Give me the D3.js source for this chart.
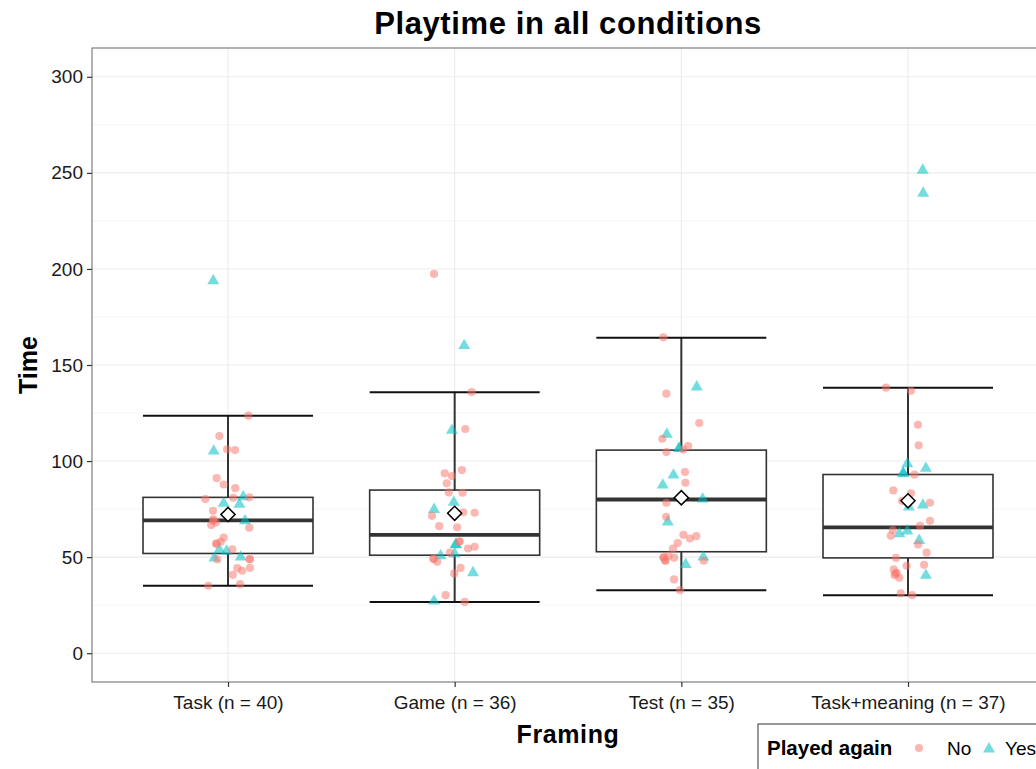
<!DOCTYPE html>
<html>
<head>
<meta charset="utf-8">
<script src="https://cdn.jsdelivr.net/npm/d3@7"></script>
<style>
  html, body { margin: 0; padding: 0; background: #fff; }
  svg { display: block; font-family: "Liberation Sans", Arial, sans-serif; }
</style>
</head>
<body>
<svg id="chart" width="1036" height="769"></svg>
<script>
// ---------------- data ----------------
const categories = ["Task", "Game", "Test", "Task+meaning"];
const counts = [40, 36, 35, 37];
const yTicks = [0, 50, 100, 150, 200, 250, 300];
const playedLevels = ["No", "Yes"];

// box statistics
const q1 = [51.9, 51.0, 52.8, 49.6];
const medians = [69.1, 61.6, 80.0, 65.5];
const q3 = [81.1, 84.9, 105.7, 93.0];
const whiskerLow = [35.1, 26.7, 32.8, 30.2];
const whiskerHigh = [123.6, 135.8, 164.2, 138.2];
const means = [72.2, 72.8, 80.9, 79.3];

// points: [time, jitter (category units), played]
const pointsTask = [
  [194.3,-0.065,"Yes"],[105.7,-0.063,"Yes"],[78.5,-0.019,"Yes"],[81.9,0.067,"Yes"],[78.0,0.050,"Yes"],
  [69.4,0.075,"Yes"],[54.3,-0.038,"Yes"],[53.6,-0.006,"Yes"],[50.0,-0.060,"Yes"],[50.5,0.056,"Yes"],
  [123.6,0.090,"No"],[113.0,-0.038,"No"],[106.1,-0.004,"No"],[105.7,0.031,"No"],[91.1,-0.050,"No"],
  [87.8,-0.019,"No"],[85.9,0.032,"No"],[80.2,-0.100,"No"],[80.9,0.023,"No"],[81.1,0.094,"No"],
  [74.1,-0.066,"No"],[69.6,-0.065,"No"],[66.7,-0.074,"No"],[68.0,-0.053,"No"],[65.3,0.094,"No"],
  [60.1,-0.019,"No"],[56.8,-0.053,"No"],[58.0,-0.032,"No"],[54.0,0.019,"No"],[48.8,-0.047,"No"],
  [49.0,0.097,"No"],[44.3,0.041,"No"],[42.9,0.062,"No"],[44.4,0.097,"No"],[40.8,0.021,"No"],
  [35.1,-0.087,"No"],[35.9,0.053,"No"],[69.0,-0.066,"No"],[57.2,-0.050,"No"],[48.9,0.095,"No"]
];
const pointsGame = [
  [160.6,0.042,"Yes"],[116.5,-0.012,"Yes"],[79.0,-0.004,"Yes"],[75.3,-0.091,"Yes"],[57.1,0.006,"Yes"],
  [52.3,0.000,"Yes"],[51.2,-0.062,"Yes"],[42.4,0.081,"Yes"],[27.6,-0.091,"Yes"],[57.0,0.004,"Yes"],
  [197.4,-0.091,"No"],[135.9,0.075,"No"],[116.7,0.047,"No"],[95.3,0.032,"No"],[93.6,-0.044,"No"],
  [92.2,-0.012,"No"],[88.4,-0.035,"No"],[83.7,-0.026,"No"],[83.5,0.035,"No"],[71.5,-0.100,"No"],
  [73.3,0.038,"No"],[73.1,0.088,"No"],[66.1,-0.068,"No"],[65.5,0.011,"No"],[58.0,0.020,"No"],
  [54.5,0.059,"No"],[55.4,0.088,"No"],[52.3,-0.021,"No"],[49.1,-0.094,"No"],[47.6,-0.077,"No"],
  [44.4,0.026,"No"],[41.5,-0.002,"No"],[30.2,-0.040,"No"],[26.7,0.044,"No"],[49.0,-0.092,"No"],
  [58.2,0.022,"No"]
];
const pointsTest = [
  [139.1,0.068,"Yes"],[114.4,-0.064,"Yes"],[107.1,-0.011,"Yes"],[93.2,-0.035,"Yes"],[88.0,-0.082,"Yes"],
  [80.7,0.094,"Yes"],[68.8,-0.060,"Yes"],[50.5,0.097,"Yes"],[46.7,0.019,"Yes"],[107.0,-0.008,"Yes"],
  [164.4,-0.079,"No"],[135.1,-0.066,"No"],[119.8,0.079,"No"],[111.6,-0.084,"No"],[107.8,0.030,"No"],
  [106.0,0.008,"No"],[104.7,-0.066,"No"],[94.3,0.016,"No"],[88.7,0.018,"No"],[78.3,-0.066,"No"],
  [71.0,-0.067,"No"],[61.6,0.009,"No"],[59.7,0.038,"No"],[60.9,0.066,"No"],[57.3,-0.016,"No"],
  [54.5,-0.037,"No"],[49.8,-0.079,"No"],[50.7,-0.057,"No"],[49.7,-0.032,"No"],[48.1,-0.071,"No"],
  [48.1,0.099,"No"],[38.4,-0.032,"No"],[32.8,-0.006,"No"],[49.9,-0.078,"No"],[48.3,-0.070,"No"]
];
const pointsTaskMeaning = [
  [251.9,0.065,"Yes"],[239.9,0.067,"Yes"],[99.1,-0.003,"Yes"],[96.7,0.079,"Yes"],[94.3,-0.022,"Yes"],
  [76.6,0.004,"Yes"],[77.6,0.066,"Yes"],[62.7,-0.038,"Yes"],[64.1,-0.003,"Yes"],[59.2,0.049,"Yes"],
  [41.0,0.079,"Yes"],[94.0,-0.020,"Yes"],
  [138.2,-0.097,"No"],[136.6,0.013,"No"],[118.9,0.044,"No"],[108.2,0.047,"No"],[92.9,0.028,"No"],
  [84.7,-0.065,"No"],[83.2,0.013,"No"],[79.3,-0.026,"No"],[78.3,0.097,"No"],[68.9,0.097,"No"],
  [66.3,0.053,"No"],[64.1,-0.067,"No"],[61.1,-0.076,"No"],[56.6,0.045,"No"],[52.3,0.082,"No"],
  [49.6,-0.053,"No"],[45.5,-0.006,"No"],[46.0,0.071,"No"],[43.6,-0.063,"No"],[41.8,-0.050,"No"],
  [40.5,-0.059,"No"],[39.2,-0.038,"No"],[31.1,-0.032,"No"],[30.2,0.018,"No"],[41.5,-0.055,"No"]
];
const pointSets = [pointsTask, pointsGame, pointsTest, pointsTaskMeaning];

// ---------------- layout ----------------
const panel = { left: 92, right: 1044, top: 48, bottom: 682 };
const svg = d3.select("#chart");

const x = d3.scalePoint().domain(categories).range([panel.left, panel.right]).padding(0.6);
const step = x.step();
const y = d3.scaleLinear().domain([-15, 315]).range([panel.bottom, panel.top]);
const color = d3.scaleOrdinal().domain(playedLevels).range(["#F8766D", "#00BFC4"]);

svg.append("clipPath").attr("id", "panelClip").append("rect")
  .attr("x", panel.left).attr("y", panel.top)
  .attr("width", panel.right - panel.left).attr("height", panel.bottom - panel.top);

const g = svg.append("g").attr("clip-path", "url(#panelClip)");

g.append("rect").attr("x", panel.left).attr("y", panel.top)
  .attr("width", panel.right - panel.left).attr("height", panel.bottom - panel.top)
  .attr("fill", "#fff");

// minor grid
const minorTicks = d3.range(25, 315, 50);
g.selectAll(".minor").data(minorTicks).join("line")
  .attr("x1", panel.left).attr("x2", panel.right)
  .attr("y1", d => y(d)).attr("y2", d => y(d))
  .attr("stroke", "#F5F5F5").attr("stroke-width", 1);
// major grid
g.selectAll(".major").data(yTicks).join("line")
  .attr("x1", panel.left).attr("x2", panel.right)
  .attr("y1", d => y(d)).attr("y2", d => y(d))
  .attr("stroke", "#EBEBEB").attr("stroke-width", 1.1);
g.selectAll(".vgrid").data(categories).join("line")
  .attr("x1", d => x(d)).attr("x2", d => x(d))
  .attr("y1", panel.top).attr("y2", panel.bottom)
  .attr("stroke", "#EBEBEB").attr("stroke-width", 1.1);

// boxes
const boxW = step * 0.75;
categories.forEach((c, i) => {
  const cx = x(c);
  g.append("line").attr("x1", cx).attr("x2", cx).attr("y1", y(whiskerHigh[i])).attr("y2", y(q3[i]))
    .attr("stroke", "#333").attr("stroke-width", 2);
  g.append("line").attr("x1", cx).attr("x2", cx).attr("y1", y(q1[i])).attr("y2", y(whiskerLow[i]))
    .attr("stroke", "#333").attr("stroke-width", 2);
  [whiskerHigh[i], whiskerLow[i]].forEach(v => {
    g.append("line").attr("x1", cx - boxW / 2).attr("x2", cx + boxW / 2)
      .attr("y1", y(v)).attr("y2", y(v))
      .attr("stroke", "#111").attr("stroke-width", 2);
  });
  g.append("rect").attr("x", cx - boxW / 2).attr("y", y(q3[i]))
    .attr("width", boxW).attr("height", y(q1[i]) - y(q3[i]))
    .attr("fill", "#fff").attr("stroke", "#333").attr("stroke-width", 1.6);
  g.append("line").attr("x1", cx - boxW / 2).attr("x2", cx + boxW / 2)
    .attr("y1", y(medians[i])).attr("y2", y(medians[i]))
    .attr("stroke", "#333").attr("stroke-width", 3.8);
});

// points
const tri = d3.symbol().type(d3.symbolTriangle).size(62);
pointSets.forEach((pts, i) => {
  const cx = x(categories[i]);
  pts.forEach(p => {
    const px = cx + p[1] * step, py = y(p[0]);
    if (p[2] === "No") {
      g.append("circle").attr("cx", px).attr("cy", py).attr("r", 4.1)
        .attr("fill", color("No")).attr("fill-opacity", 0.52);
    } else {
      g.append("path").attr("d", tri).attr("transform", `translate(${px},${py + 1})`)
        .attr("fill", color("Yes")).attr("fill-opacity", 0.55);
    }
  });
});

// means
categories.forEach((c, i) => {
  g.append("path").attr("d", d3.symbol().type(d3.symbolSquare).size(100))
    .attr("transform", `translate(${x(c)},${y(means[i])}) rotate(45)`)
    .attr("fill", "#fff").attr("stroke", "#000").attr("stroke-width", 1.5);
});

// panel border
svg.append("rect").attr("x", panel.left).attr("y", panel.top)
  .attr("width", panel.right - panel.left).attr("height", panel.bottom - panel.top)
  .attr("fill", "none").attr("stroke", "#7F7F7F").attr("stroke-width", 1.2);

// axes
const yAxis = d3.axisLeft(y).tickValues(yTicks).tickSize(5).tickPadding(4);
const ya = svg.append("g").attr("transform", `translate(${panel.left},0)`).call(yAxis);
ya.select(".domain").remove();
ya.selectAll("line").attr("stroke", "#333").attr("stroke-width", 1.2);
ya.selectAll("text").attr("font-size", 19).attr("fill", "#1a1a1a")
  .attr("font-family", "Liberation Sans, Arial, sans-serif");

const labels = categories.map((c, i) => `${c} (n = ${counts[i]})`);
const xAxis = d3.axisBottom(x).tickSize(5).tickPadding(9).tickFormat((d, i) => labels[i]);
const xa = svg.append("g").attr("transform", `translate(0,${panel.bottom})`).call(xAxis);
xa.select(".domain").remove();
xa.selectAll("line").attr("stroke", "#333").attr("stroke-width", 1.2);
xa.selectAll("text").attr("font-size", 19).attr("fill", "#1a1a1a")
  .attr("font-family", "Liberation Sans, Arial, sans-serif");

// titles
svg.append("text").attr("x", (panel.left + panel.right) / 2).attr("y", 34)
  .attr("text-anchor", "middle").attr("font-size", 31).attr("font-weight", "bold")
  .attr("letter-spacing", 0.6)
  .text("Playtime in all conditions");
svg.append("text").attr("x", (panel.left + panel.right) / 2).attr("y", 743)
  .attr("text-anchor", "middle").attr("font-size", 25).attr("font-weight", "bold")
  .attr("letter-spacing", 0.6)
  .text("Framing");
svg.append("text").attr("transform", `translate(37,${(panel.top + panel.bottom) / 2}) rotate(-90)`)
  .attr("text-anchor", "middle").attr("font-size", 25).attr("font-weight", "bold")
  .text("Time");

// legend
const lg = svg.append("g").attr("transform", "translate(758,724)");
lg.append("rect").attr("x", 0).attr("y", 0).attr("width", 320).attr("height", 60)
  .attr("fill", "#fff").attr("stroke", "#333").attr("stroke-width", 1);
lg.append("text").attr("x", 9).attr("y", 31).attr("font-size", 20.5).attr("font-weight", "bold")
  .text("Played again");
lg.append("circle").attr("cx", 161).attr("cy", 24).attr("r", 4.1)
  .attr("fill", color("No")).attr("fill-opacity", 0.52);
lg.append("text").attr("x", 189).attr("y", 31).attr("font-size", 19).text("No");
lg.append("path").attr("d", tri).attr("transform", "translate(231,25)")
  .attr("fill", color("Yes")).attr("fill-opacity", 0.55);
lg.append("text").attr("x", 247).attr("y", 31).attr("font-size", 19).text("Yes");
</script>
</body>
</html>
